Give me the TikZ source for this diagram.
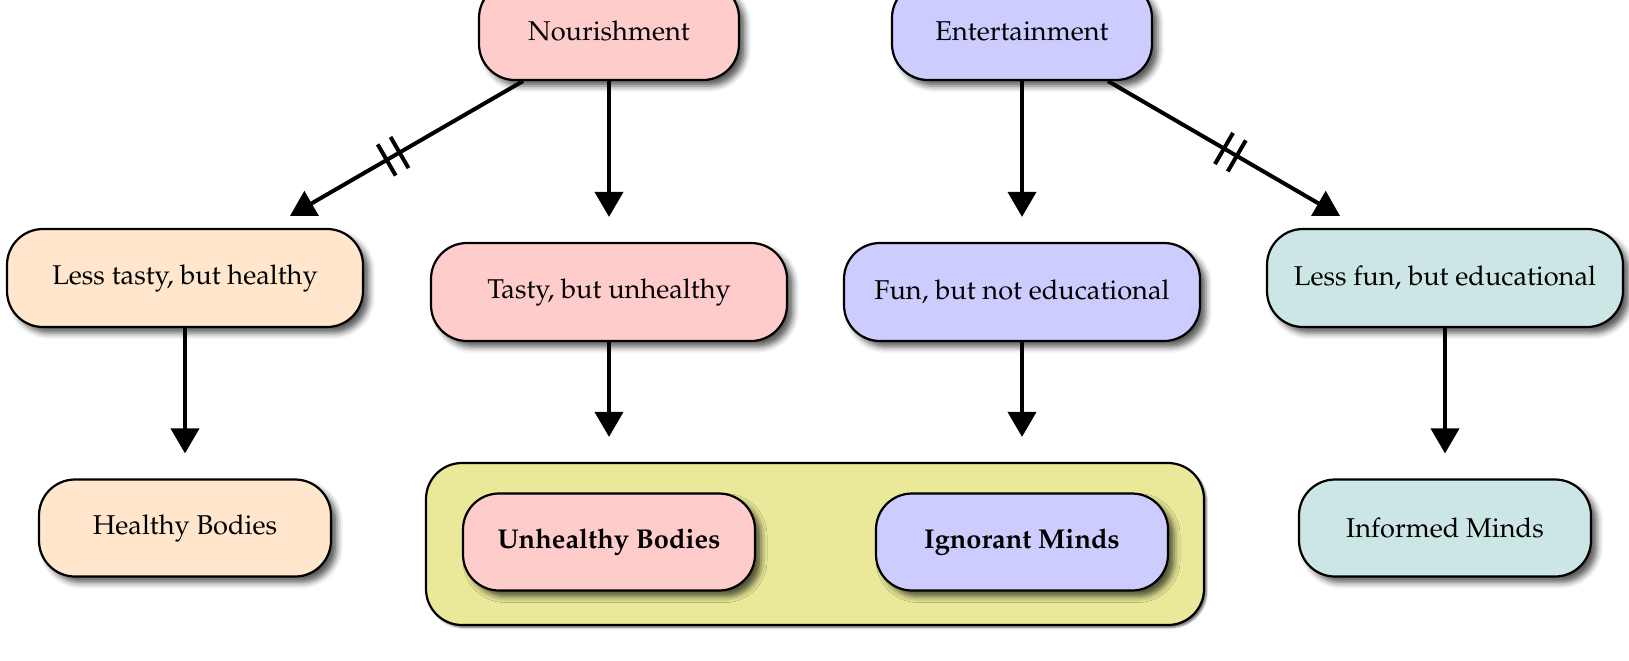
\documentclass[tikz,border=0pt]{standalone}
\usepackage[T1]{fontenc}
\usepackage{mathpazo}
\usetikzlibrary{arrows.meta,shadows.blur}

\definecolor{pinkfill}{RGB}{255,204,204}
\definecolor{bluefill}{RGB}{204,204,255}
\definecolor{peachfill}{RGB}{255,230,204}
\definecolor{tealfill}{RGB}{204,230,230}
\definecolor{groupfill}{RGB}{233,233,153}

\tikzset{
  box/.style={rectangle, rounded corners=18pt, draw=black, line width=1.1pt,
    inner sep=0pt, align=center, font=\fontsize{13.6}{16}\selectfont,
    blur shadow={shadow xshift=3pt, shadow yshift=-3pt,
      shadow blur radius=3pt, shadow opacity=65}},
  topbox/.style={box, minimum width=130pt, minimum height=49pt},
  midbox/.style={box, minimum width=178pt, minimum height=49pt},
  endbox/.style={box, minimum width=146pt, minimum height=48.5pt},
  groupbox/.style={rectangle, rounded corners=18pt, draw=black, line width=1.1pt,
    fill=groupfill, minimum width=389pt, minimum height=81pt,
    blur shadow={shadow xshift=1.2pt, shadow yshift=-1.2pt,
      shadow blur radius=1pt, shadow opacity=60}},
  arr/.style={line width=2pt, -{Triangle[width=14pt,length=12.5pt]}},
  down/.style={arr, shorten >=12.5pt},
  tick/.style={sloped, fill=black, inner sep=0pt, minimum width=2pt,
    minimum height=18pt}
}

\begin{document}
\begin{tikzpicture}[x=0.5pt, y=-0.5pt]
  \useasboundingbox (0,0) rectangle (1629,660);

  % top row
  \node[topbox, fill=pinkfill] (nour) at (609,31) {Nourishment};
  \node[topbox, fill=bluefill] (ent) at (1022,31) {Entertainment};

  % middle row
  \node[midbox, fill=peachfill] (lt) at (185,278) {Less tasty, but healthy};
  \node[midbox, fill=pinkfill]  (tu) at (609,292) {Tasty, but unhealthy};
  \node[midbox, fill=bluefill]  (fn) at (1022,292) {Fun, but not educational};
  \node[midbox, fill=tealfill]  (lf) at (1445,278) {Less fun, but educational};

  % outcome group
  \node[groupbox] (grp) at (815,544) {};
  \node[endbox, fill=pinkfill] (ub) at (609,542) {\textbf{Unhealthy Bodies}};
  \node[endbox, fill=bluefill] (ig) at (1022,542) {\textbf{Ignorant Minds}};

  % outer outcomes
  \node[endbox, fill=peachfill] (hb) at (185,528) {Healthy Bodies};
  \node[endbox, fill=tealfill]  (im) at (1445,528) {Informed Minds};

  % connectors, the diagonal ones crossed by a double bar
  \draw[arr] ([xshift=-43pt]nour.south) -- ([xshift=52.5pt,yshift=6pt]lt.north)
    node[tick, pos=0.53] (barl1) {} node[tick, pos=0.585] (barl2) {};
  \draw[down] (nour.south) -- (tu.north);
  \draw[down] (ent.south) -- (fn.north);
  \draw[arr] ([xshift=43pt]ent.south) -- ([xshift=-52.5pt,yshift=6pt]lf.north)
    node[tick, pos=0.5] (barr1) {} node[tick, pos=0.555] (barr2) {};

  \draw[down] (lt.south) -- (hb.north);
  \draw[down] (tu.south) -- (tu.south |- grp.north);
  \draw[down] (fn.south) -- (fn.south |- grp.north);
  \draw[down] (lf.south) -- (im.north);
\end{tikzpicture}
\end{document}
